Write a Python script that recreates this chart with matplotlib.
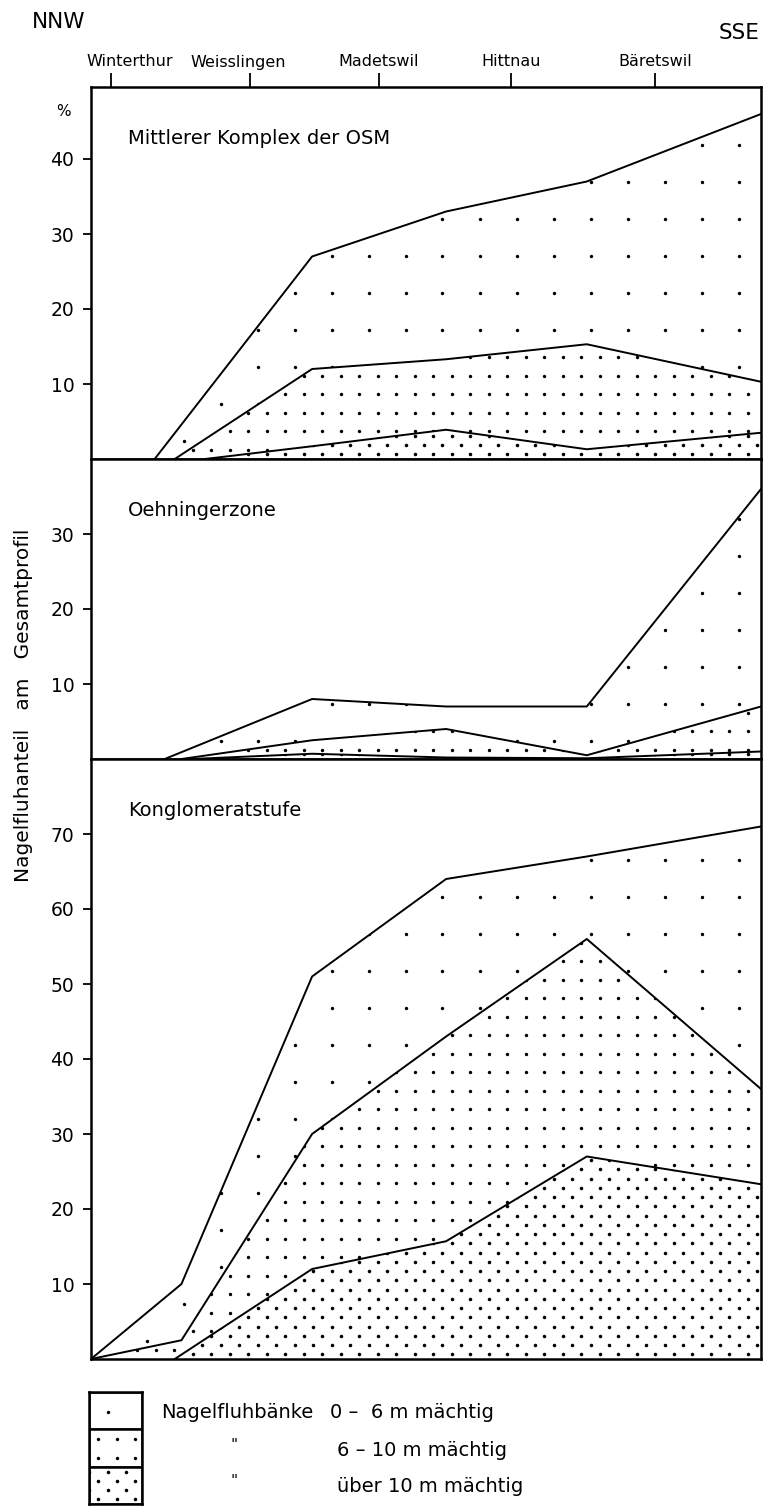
import numpy as np
import matplotlib
matplotlib.use("Agg")
import matplotlib.pyplot as plt

# distance along the profile NNW -> SSE (km)
towns = ["Winterthur", "Weisslingen", "Madetswil", "Hittnau", "Bäretswil"]
town_km = [0.6, 4.75, 8.6, 12.55, 16.85]
town_label_km = [1.15, 4.4, 8.6, 12.55, 16.85]

# Mittlerer Komplex der OSM (% Nagelfluh)
osm_top_x = [1.9, 6.6, 10.6, 14.8, 20.0]
osm_top = [0, 27, 33, 37, 46]
osm_mid_x = [2.5, 6.6, 10.6, 14.8, 20.0]
osm_mid = [0, 12, 13.3, 15.3, 10.3]
osm_bot_x = [3.4, 6.6, 10.6, 14.8, 20.0]
osm_bot = [0, 1.7, 3.9, 1.3, 3.5]

# Oehningerzone
oeh_top_x = [2.2, 6.6, 10.6, 14.8, 20.0]
oeh_top = [0, 8, 7, 7, 36]
oeh_mid_x = [2.7, 6.6, 10.6, 14.8, 20.0]
oeh_mid = [0, 2.5, 4, 0.5, 7]
oeh_bot_x = [3.0, 6.6, 10.6, 14.8, 20.0]
oeh_bot = [0, 0.7, 0.2, 0.1, 1.0]

# Konglomeratstufe
kon_top_x = [0, 2.7, 6.6, 10.6, 14.8, 20.0]
kon_top = [0, 10, 51, 64, 67, 71]
kon_mid_x = [0, 2.7, 6.6, 10.6, 14.8, 20.0]
kon_mid = [0, 2.5, 30, 43, 56, 36]
kon_bot_x = [2.5, 6.6, 10.6, 14.8, 20.0]
kon_bot = [0, 12, 15.7, 27, 23.3]

legend_labels = ["0 –  6 m mächtig", "6 – 10 m mächtig", "über 10 m mächtig"]

W, H = 763, 1506
fig = plt.figure(figsize=(W / 100, H / 100), dpi=100)
plt.rcParams["font.family"] = ["DejaVu Sans"]
PT = 100 / 72.0


def px_axes(x0, y0, x1, y1):
    return fig.add_axes([x0 / W, 1 - y1 / H, (x1 - x0) / W, (y1 - y0) / H])


# dot screens: (column step, row step, staggered, dot size)
SPARSE = (37, 37, False, 6)
MEDIUM = (18.5, 18.5, False, 6)
DENSE = (18.5, 9.25, True, 6.5)


def dot_screen(ax, clip, screen, z, trans):
    step, rows, stagger, size = screen
    bb = ax.get_position()
    wpx, hpx = bb.width * W, bb.height * H
    gx = np.arange(step / 2, wpx + step, step)
    gy = np.arange(rows / 2, hpx, rows)
    X, Y = np.meshgrid(gx, gy)
    if stagger:
        X[1::2] -= step / 2
    sc = ax.scatter(X.ravel() / wpx, Y.ravel() / hpx, s=size, c="black",
                    linewidths=0, transform=ax.transAxes, zorder=z)
    sc.set_clip_path(clip, trans)


def layer(ax, x, y, screen, z):
    poly = ax.fill_between(x, y, 0, facecolor="white", edgecolor="none", zorder=z)
    dot_screen(ax, poly.get_paths()[0], screen, z + 0.1, ax.transData)
    ax.plot(x, y, color="black", lw=1.4, zorder=6)


panels = [
    ("Mittlerer Komplex der OSM", 87, 459, 49.6, [10, 20, 30, 40],
     (osm_top_x, osm_top), (osm_mid_x, osm_mid), (osm_bot_x, osm_bot)),
    ("Oehningerzone", 459, 759, 40, [10, 20, 30],
     (oeh_top_x, oeh_top), (oeh_mid_x, oeh_mid), (oeh_bot_x, oeh_bot)),
    ("Konglomeratstufe", 759, 1359, 80, [10, 20, 30, 40, 50, 60, 70],
     (kon_top_x, kon_top), (kon_mid_x, kon_mid), (kon_bot_x, kon_bot)),
]

axes = []
for i, (title, y0, y1, ymax, yt, top, mid, bot) in enumerate(panels):
    ax = px_axes(91, y0, 761, y1)
    ax.set_xlim(0, 20)
    ax.set_ylim(0, ymax)
    layer(ax, top[0], top[1], SPARSE, 2)
    layer(ax, mid[0], mid[1], MEDIUM, 3)
    layer(ax, bot[0], bot[1], DENSE, 4)
    for s in ax.spines.values():
        s.set_linewidth(1.8)
        s.set_zorder(7)
    ax.set_yticks(yt)
    ax.set_yticklabels([str(v) for v in yt], fontsize=13.5)
    ax.tick_params(axis="y", direction="out", length=6, width=1.3, pad=6)
    if i == 0:
        ax.xaxis.tick_top()
        ax.set_xticks(town_km)
        ax.set_xticklabels([])
        ax.tick_params(axis="x", direction="out", length=10, width=1.3)
        for name, xl in zip(towns, town_label_km):
            ax.annotate(name, xy=(xl, 1), xycoords=("data", "axes fraction"),
                        xytext=(0, 25 / PT), textcoords="offset points",
                        ha="center", va="center", fontsize=11.5)
        ax.annotate("%", xy=(0, 1), xycoords="axes fraction",
                    xytext=(-28 / PT, -25 / PT), textcoords="offset points",
                    ha="center", va="center", fontsize=11)
    else:
        ax.set_xticks([])
    ax.annotate(title, xy=(0, 1), xycoords="axes fraction",
                xytext=(37 / PT, -52 / PT), textcoords="offset points",
                ha="left", va="center", fontsize=14)
    axes.append(ax)

fig.text(32 / W, 1 - 22 / H, "NNW", fontsize=15.5, ha="left", va="center")
fig.text(759 / W, 1 - 33 / H, "SSE", fontsize=15.5, ha="right", va="center")
fig.text(24 / W, 1 - 705 / H, "Nagelfluhanteil   am   Gesamtprofil", rotation=90,
         fontsize=14.5, ha="center", va="center")

# legend boxes
lax = px_axes(89, 1392, 142, 1504)
lax.set_xlim(0, 1)
lax.set_ylim(0, 3)
lax.set_xticks([])
lax.set_yticks([])
for s in lax.spines.values():
    s.set_linewidth(1.8)
for k, screen in enumerate([SPARSE, MEDIUM, DENSE]):
    rect = plt.Rectangle((0, 2 - k), 1, 1, facecolor="white", edgecolor="black",
                         lw=1.8, zorder=2)
    lax.add_patch(rect)
    dot_screen(lax, rect.get_path(), screen, 3, rect.get_transform())

fig.text(161 / W, 1 - 1412 / H, "Nagelfluhbänke", fontsize=14, ha="left", va="center")
for k, lab in enumerate(legend_labels):
    ym = [1412, 1450, 1487][k]
    fig.text(330 / W if k == 0 else 337 / W, 1 - ym / H, lab, fontsize=14,
             ha="left", va="center")
    if k > 0:
        fig.text(234 / W, 1 - (ym - 5) / H, '"', fontsize=11, ha="center", va="center")

fig.savefig("out.png", dpi=100)
